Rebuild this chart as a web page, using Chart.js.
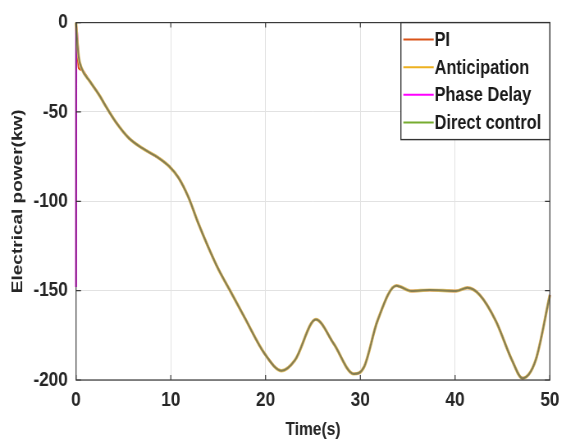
<!DOCTYPE html>
<html>
<head>
<meta charset="utf-8">
<script src="https://cdn.jsdelivr.net/npm/chart.js@4.4.1/dist/chart.umd.min.js"></script>
<style>
html, body { margin: 0; padding: 0; background: #fff; overflow: hidden; }
/* the reference is squeezed horizontally, so draw wide and squeeze */
#wrap { width: 690px; height: 441px; transform: scaleX(0.8203); transform-origin: 0 0; }
</style>
</head>
<body>
<div id="wrap"><canvas id="myChart" width="690" height="441"></canvas></div>
<script>
//Data
const timeS = [0, 0.02, 0.28, 0.59, 1.46, 2.5, 3.1, 4.2, 5.6, 7.0,
   8.7, 9.8, 10.8, 11.85, 12.9, 13.9, 15.0, 16.2, 17.8, 19.9,
   21.7, 23.1, 25.3, 27.2, 29.3, 30.4, 31.8, 33.8, 35.4, 37.3,
   40.1, 41.3, 42.6, 44.3, 46.0, 47.1, 48.5, 50];
const directControl = [0, -2, -19.2, -25.6, -32.9, -41, -46.5, -55.7, -64.8, -70.3,
   -75.7, -80.3, -86.7, -97.6, -112.3, -125, -137.8, -149.5, -165.2, -185.3,
   -194.8, -188.9, -166.1, -179.8, -196.6, -192.6, -167, -147.2, -150.2, -149.7,
   -150.2, -148.4, -152.4, -167, -188.9, -199, -188.9, -152.4];
const anticipation = directControl.slice();
const piCtrl = [0, -3, -25.5, -26.5, -32.9, -41, -46.5, -55.7, -64.8, -70.3,
   -75.7, -80.3, -86.7, -97.6, -112.3, -125, -137.8, -149.5, -165.2, -185.3,
   -194.8, -188.9, -166.1, -179.8, -196.6, -192.6, -167, -147.2, -150.2, -149.7,
   -150.2, -148.4, -152.4, -167, -188.9, -199, -188.9, -152.4];
const phaseDelay = [-148, -2, -19.2, -25.6, -32.9, -41, -46.5, -55.7, -64.8, -70.3,
   -75.7, -80.3, -86.7, -97.6, -112.3, -125, -137.8, -149.5, -165.2, -185.3,
   -194.8, -188.9, -166.1, -179.8, -196.6, -192.6, -167, -147.2, -150.2, -149.7,
   -150.2, -148.4, -152.4, -167, -188.9, -199, -188.9, -152.4];
const seriesNames = ['PI', 'Anticipation', 'Phase Delay', 'Direct control'];
const xTicks = [0, 10, 20, 30, 40, 50];
const yTicks = [-200, -150, -100, -50, 0];

const toPoints = vals => vals.map((v, i) => ({x: timeS[i], y: v}));
const fontFam = '"Liberation Sans", Arial, sans-serif';
const textCol = '#262626';

//Box, inward ticks and legend like the matlab figure
const matlabFrame = {
   id: 'matlabFrame',
   afterDraw(chart) {
      const c = chart.ctx;
      const a = chart.chartArea;
      const xs = chart.scales.x, ys = chart.scales.y;
      c.save();
      c.strokeStyle = '#3a3a3a';
      c.lineWidth = 1.2;
      c.strokeRect(a.left, a.top, a.right - a.left, a.bottom - a.top);
      c.beginPath();
      xTicks.forEach(t => {
         const px = xs.getPixelForValue(t);
         c.moveTo(px, a.bottom); c.lineTo(px, a.bottom - 5);
         c.moveTo(px, a.top); c.lineTo(px, a.top + 5);
      });
      yTicks.forEach(t => {
         const py = ys.getPixelForValue(t);
         c.moveTo(a.left, py); c.lineTo(a.left + 6, py);
         c.moveTo(a.right, py); c.lineTo(a.right - 6, py);
      });
      c.stroke();

      // legend
      const lx = 488.7, ly = a.top, lw = a.right - lx, lh = 117;
      c.fillStyle = '#fff';
      c.fillRect(lx, ly, lw, lh);
      c.strokeStyle = '#333';
      c.lineWidth = 1.4;
      c.strokeRect(lx, ly, lw, lh);
      c.font = 'bold 20px ' + fontFam;
      c.textBaseline = 'middle';
      c.textAlign = 'left';
      chart.data.datasets.forEach((ds, i) => {
         const yy = ly + 17 + i * 27.6;
         c.strokeStyle = ds.legendColor;
         c.lineWidth = 2;
         c.beginPath();
         c.moveTo(lx + 3, yy); c.lineTo(lx + 40, yy);
         c.stroke();
         c.fillStyle = '#1a1a1a';
         c.fillText(ds.label, lx + 41, yy + 1);
      });
      c.restore();
   }
};

const ctx = document.getElementById('myChart').getContext('2d');
const myChart = new Chart(ctx, {
   type: 'line',
   data: {
      datasets: [
         // lower order is drawn on top
         { label: seriesNames[0], data: toPoints(piCtrl), borderColor: '#D95319', legendColor: '#D95319', borderWidth: 2, order: 3 },
         { label: seriesNames[1], data: toPoints(anticipation), borderColor: '#E3C46A', legendColor: '#EDB120', borderWidth: 3.4, order: 1 },
         { label: seriesNames[2], data: toPoints(phaseDelay), borderColor: '#FF00FF', legendColor: '#FF00FF', borderWidth: 2.4, order: 2 },
         { label: seriesNames[3], data: toPoints(directControl), borderColor: '#857e52', legendColor: '#77AC30', borderWidth: 2, order: 0 }
      ]
   },
   options: {
      responsive: false,
      animation: false,
      devicePixelRatio: 1,
      layout: { padding: { top: 15, right: 14.4, bottom: 0, left: 0 } },
      elements: {
         point: { radius: 0 },
         line: { cubicInterpolationMode: 'monotone', fill: false }
      },
      datasets: { line: { clip: 4 } },
      scales: {
         x: {
            type: 'linear',
            min: 0, max: 50,
            afterFit: s => { s.height = 61; },
            afterBuildTicks: s => { s.ticks = xTicks.map(v => ({value: v})); },
            grid: { color: '#e2e2e2', drawTicks: false },
            border: { display: false },
            ticks: { padding: 8, color: textCol, font: { family: fontFam, size: 21, weight: 'bold' }, maxRotation: 0 },
            title: { display: true, text: 'Time(s)', color: textCol, padding: { top: 0, bottom: 0 },
               font: { family: fontFam, size: 19, weight: 'bold' } }
         },
         y: {
            min: -200, max: 0,
            afterFit: s => { s.width = 92.7; },
            afterBuildTicks: s => { s.ticks = yTicks.map(v => ({value: v})); },
            grid: { color: '#e2e2e2', drawTicks: false },
            border: { display: false },
            ticks: { padding: 10, color: textCol, font: { family: fontFam, size: 21, weight: 'bold' } },
            title: { display: true, text: 'Electrical power(kw)', color: textCol, padding: { top: 10, bottom: 0 },
               font: { family: fontFam, size: 19, weight: 'bold' } }
         }
      },
      plugins: {
         legend: { display: false },
         tooltip: { enabled: false }
      }
   },
   plugins: [matlabFrame]
});
</script>
</body>
</html>
